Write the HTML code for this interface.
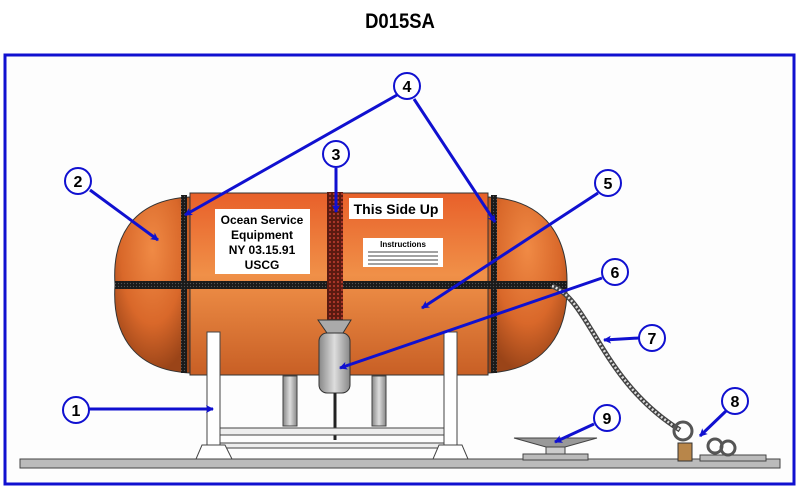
<!DOCTYPE html>
<html><head><meta charset="utf-8"><style>
html,body{margin:0;padding:0;background:#fff;}
svg{display:block;font-family:"Liberation Sans",Arial,sans-serif;}
</style></head><body>
<svg width="800" height="489" viewBox="0 0 800 489" xmlns="http://www.w3.org/2000/svg">
<defs>
<radialGradient id="og" cx="50%" cy="30%" r="70%">
<stop offset="0" stop-color="#f08a45"/><stop offset="0.6" stop-color="#d9682a"/><stop offset="1" stop-color="#9a4418"/>
</radialGradient>
<linearGradient id="og2" x1="0" y1="0" x2="0" y2="1">
<stop offset="0" stop-color="#e8602a"/><stop offset="0.45" stop-color="#f09048"/><stop offset="1" stop-color="#c85f25"/>
</linearGradient>
<linearGradient id="gr" x1="0" y1="0" x2="1" y2="0">
<stop offset="0" stop-color="#888"/><stop offset="0.5" stop-color="#ddd"/><stop offset="1" stop-color="#888"/>
</linearGradient>
<pattern id="mesh" width="3" height="3" patternUnits="userSpaceOnUse">
<rect width="3" height="3" fill="#1a1a1a"/><circle cx="1.5" cy="1.5" r="0.6" fill="#555"/>
</pattern>
<pattern id="rmesh" width="4" height="4" patternUnits="userSpaceOnUse">
<rect width="4" height="4" fill="#5a1a10"/><circle cx="2" cy="2" r="1.1" fill="#b0382a"/>
</pattern>
<marker id="ah" markerWidth="8" markerHeight="8" refX="7" refY="4" orient="auto" markerUnits="userSpaceOnUse" viewBox="0 0 8 8">
<path d="M0,0 L8,4 L0,8 L2,4 z" fill="#1010d0"/>
</marker>
</defs>
<rect width="800" height="489" fill="#fff"/>
<text x="400" y="28" text-anchor="middle" font-size="21" font-weight="bold" transform="translate(400 0) scale(0.88 1) translate(-400 0)">D015SA</text>
<rect x="5" y="55" width="789" height="429" fill="#fdfdfd" stroke="#1010d0" stroke-width="3"/>

<rect x="20" y="459" width="760" height="9" fill="#bbb" stroke="#444"/>

<rect x="283" y="376" width="14" height="50" fill="url(#gr)" stroke="#444"/>
<rect x="372" y="376" width="14" height="50" fill="url(#gr)" stroke="#444"/>
<path d="M190,193 L488,193 L488,375 L190,375 Z" fill="url(#og2)" stroke="#333"/>
<path d="M190,197 C130,200 112,240 115,285 C112,330 130,370 190,373 Z" fill="url(#og)" stroke="#333"/>
<path d="M488,197 C548,200 568,240 567,285 C568,330 548,370 488,373 Z" fill="url(#og)" stroke="#333"/>
<rect x="115" y="281" width="452" height="8" fill="url(#mesh)"/>
<rect x="181" y="195" width="6" height="178" fill="url(#mesh)"/>
<rect x="491" y="195" width="6" height="178" fill="url(#mesh)"/>
<rect x="327" y="192" width="16" height="130" fill="url(#rmesh)"/>
<rect x="215" y="209" width="95" height="65" fill="#fff"/>
<g font-size="12" font-weight="bold" text-anchor="middle">
<text x="262" y="224">Ocean Service</text><text x="262" y="239">Equipment</text>
<text x="262" y="254">NY  03.15.91</text><text x="262" y="269">USCG</text></g>
<rect x="349" y="198" width="94" height="21" fill="#fff"/>
<text x="396" y="214" text-anchor="middle" font-size="14" font-weight="bold">This Side Up</text>
<rect x="363" y="238" width="80" height="29" fill="#fff"/>
<text x="403" y="247" text-anchor="middle" font-size="8" font-weight="bold">Instructions</text>
<g stroke="#444" stroke-width="1"><line x1="368" y1="252" x2="438" y2="252"/><line x1="368" y1="256" x2="438" y2="256"/><line x1="368" y1="260" x2="438" y2="260"/><line x1="368" y1="264" x2="438" y2="264"/></g>

<path d="M318,320 L351,320 L343,333 L327,333 Z" fill="#aaa" stroke="#333"/>
<rect x="319" y="333" width="31" height="60" rx="8" fill="url(#gr)" stroke="#333"/>
<line x1="335" y1="393" x2="335" y2="440" stroke="#222" stroke-width="3"/>

<rect x="207" y="332" width="13" height="115" fill="#fff" stroke="#444"/>
<rect x="444" y="332" width="13" height="115" fill="#fff" stroke="#444"/>
<rect x="220" y="428" width="224" height="7" fill="#eee" stroke="#444"/>
<rect x="220" y="443" width="224" height="5" fill="#eee" stroke="#444"/>
<path d="M202,445 L225,445 L232,459 L196,459 Z" fill="#fff" stroke="#444"/>
<path d="M439,445 L462,445 L468,459 L433,459 Z" fill="#fff" stroke="#444"/>

<path d="M552,286 C590,300 600,380 680,430" fill="none" stroke="#444" stroke-width="5"/>
<path d="M552,286 C590,300 600,380 680,430" fill="none" stroke="#ddd" stroke-width="2.5" stroke-dasharray="2,2"/>
<rect x="523" y="454" width="65" height="6" fill="#bbb" stroke="#444"/>
<rect x="546" y="447" width="19" height="7" fill="#ccc" stroke="#444"/>
<path d="M514,438 L597,438 L565,447 L546,447 Z" fill="#999" stroke="#444"/>
<circle cx="683" cy="431" r="9" fill="none" stroke="#555" stroke-width="3"/>
<rect x="678" y="443" width="14" height="18" fill="#b8864a" stroke="#333"/>
<rect x="700" y="455" width="66" height="6" fill="#bbb" stroke="#444"/>
<circle cx="715" cy="446" r="7" fill="none" stroke="#555" stroke-width="3"/>
<circle cx="728" cy="448" r="7" fill="none" stroke="#555" stroke-width="3"/>

<g stroke="#1010d0" stroke-width="3" fill="none" marker-end="url(#ah)">
<line x1="89" y1="409" x2="213" y2="409"/>
<line x1="90" y1="190" x2="158" y2="240"/>
<line x1="336" y1="168" x2="336" y2="212"/>
<line x1="397" y1="95" x2="185" y2="215"/>
<line x1="414" y1="99" x2="495" y2="222"/>
<line x1="598" y1="193" x2="422" y2="308"/>
<line x1="602" y1="278" x2="340" y2="368"/>
<line x1="639" y1="338" x2="604" y2="340"/>
<line x1="726" y1="411" x2="700" y2="436"/>
<line x1="594" y1="424" x2="555" y2="442"/>
</g>
<g fill="#fff" stroke="#1010d0" stroke-width="2">
<circle cx="76" cy="410" r="13"/><circle cx="78" cy="181" r="13"/><circle cx="336" cy="154" r="13"/>
<circle cx="407" cy="86" r="13"/><circle cx="608" cy="183" r="13"/><circle cx="615" cy="272" r="13"/>
<circle cx="652" cy="338" r="13"/><circle cx="735" cy="401" r="13"/><circle cx="607" cy="418" r="13"/>
</g>
<g font-size="16" font-weight="bold" text-anchor="middle">
<text x="76" y="416">1</text><text x="78" y="187">2</text><text x="336" y="160">3</text>
<text x="407" y="92">4</text><text x="608" y="189">5</text><text x="615" y="278">6</text>
<text x="652" y="344">7</text><text x="735" y="407">8</text><text x="607" y="424">9</text>
</g>
</svg>
</body></html>
